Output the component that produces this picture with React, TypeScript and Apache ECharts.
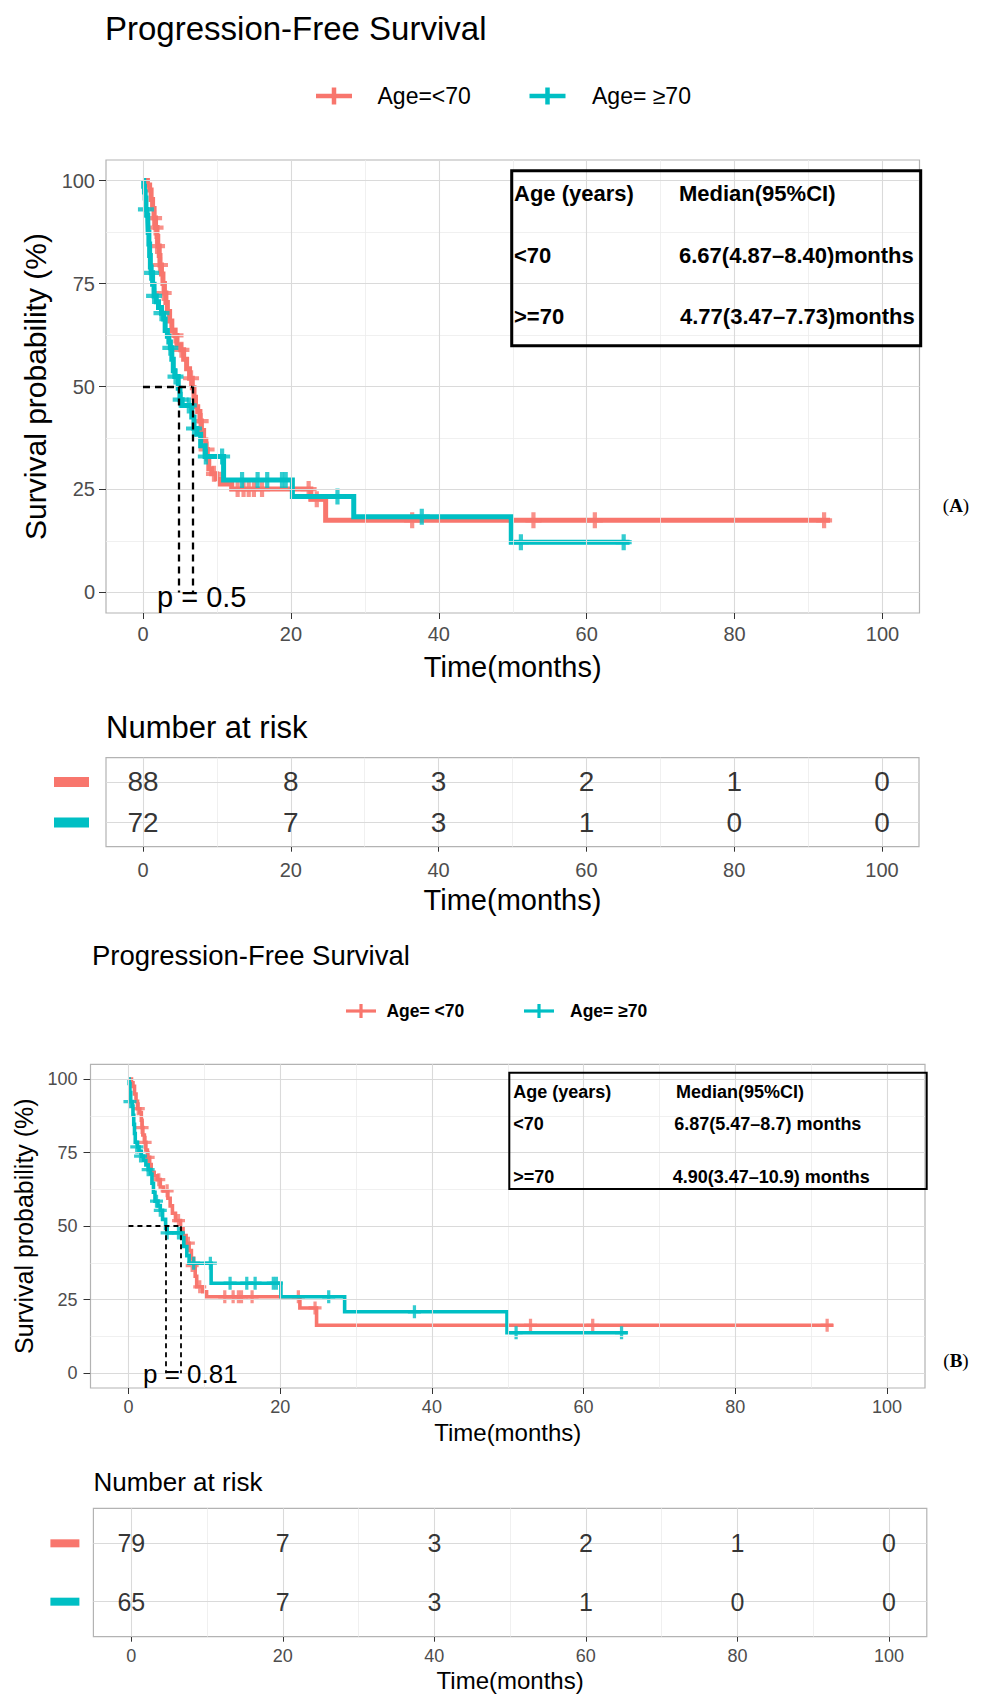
import React, { useEffect, useRef } from 'react';
import * as echarts from 'echarts';

const RED = '#F8766D';
const TEAL = '#00BFC4';
const FONT = '"Liberation Sans", Arial, Helvetica, sans-serif';
const SERIF = '"Liberation Serif", "Times New Roman", serif';

// axis breaks
const timeBreaks = [0, 20, 40, 60, 80, 100];
const timeMinor = [10, 30, 50, 70, 90];
const survBreaks = [0, 25, 50, 75, 100];
const survMinor = [12.5, 37.5, 62.5, 87.5];
const riskRows = [1, 2];

// ---------- Panel A ----------
const aLtSteps = [
  [0, 100], [0.6, 98.9], [0.9, 97.7], [1.1, 95.4], [1.3, 93.2], [1.5, 90.9], [1.7, 88.6], [1.9, 86.4],
  [2.0, 84.1], [2.2, 81.8], [2.3, 79.5], [2.5, 77.3], [2.7, 75.0], [2.9, 72.7], [3.1, 70.4], [3.3, 68.2],
  [3.6, 65.9], [3.9, 63.6], [4.3, 62.4], [4.6, 60.1], [5.1, 58.9], [5.5, 56.6], [5.9, 54.3], [6.3, 52.0],
  [6.67, 49.7], [6.9, 47.4], [7.1, 45.1], [7.4, 43.9], [7.7, 41.6], [7.9, 39.3], [8.2, 37.0], [8.5, 34.7],
  [8.7, 32.4], [8.9, 30.0], [9.3, 28.8], [9.9, 27.6], [10.4, 26.3], [12.0, 25.1], [22.7, 22.6], [24.7, 17.5],
];
const aLtEnd = 92.9;
const aLtCensor = [
  [1.5, 90.9], [1.7, 88.6], [1.9, 84.1], [2.3, 79.5], [2.8, 72.7], [4.4, 62.4], [5.2, 58.9], [6.5, 52.0],
  [7.8, 41.6], [8.6, 34.7], [9.6, 28.8], [12.8, 25.1], [13.6, 25.1], [14.3, 25.1], [15.0, 25.1], [16.1, 25.1],
  [22.4, 25.1], [23.5, 22.6], [36.4, 17.5], [52.8, 17.5], [61.1, 17.5], [92.1, 17.5],
];
const aGeSteps = [
  [0, 100], [0.1, 98.6], [0.2, 97.2], [0.3, 95.8], [0.4, 93.0], [0.55, 91.6], [0.65, 90.2], [0.7, 87.4],
  [0.8, 84.6], [0.9, 81.8], [1.0, 79.0], [1.1, 77.6], [1.3, 74.8], [1.5, 72.0], [1.8, 70.6], [2.1, 69.2],
  [2.5, 67.8], [2.8, 66.4], [3.0, 63.6], [3.3, 62.2], [3.5, 60.8], [3.7, 59.4], [3.9, 56.6], [4.1, 53.8],
  [4.3, 52.4], [4.77, 49.6], [5.0, 46.8], [5.3, 45.4], [6.6, 42.6], [6.9, 39.8], [7.3, 38.4], [7.8, 35.6],
  [8.4, 33.0], [10.9, 27.3], [20.2, 23.3], [28.5, 18.4], [49.8, 12.2],
];
const aGeEnd = 65.8;
const aGeCensor = [
  [0.4, 93.0], [1.1, 77.6], [1.5, 72.0], [2.5, 67.8], [3.7, 59.4], [4.4, 52.4], [5.1, 46.8], [6.2, 45.4],
  [6.9, 39.8], [8.5, 33.0], [10.7, 33.0], [13.4, 27.3], [15.5, 27.3], [16.8, 27.3], [18.8, 27.3], [19.3, 27.3],
  [26.3, 23.3], [37.7, 18.4], [51.1, 12.2], [65.0, 12.2],
];
const aMedianLt = 6.67;
const aMedianGe = 4.77;
const aRiskLt = [88, 8, 3, 2, 1, 0];
const aRiskGe = [72, 7, 3, 1, 0, 0];

// ---------- Panel B ----------
const bLtSteps = [
  [0, 100], [0.4, 98.7], [0.6, 97.5], [0.8, 94.9], [1.0, 92.4], [1.2, 89.9], [1.5, 88.6], [1.7, 86.0],
  [1.8, 83.5], [1.9, 81.0], [2.1, 78.5], [2.3, 75.9], [2.5, 73.4], [2.8, 70.9], [3.0, 68.3], [3.4, 67.1],
  [3.8, 65.8], [4.2, 63.3], [4.6, 62.0], [5.2, 59.5], [5.5, 56.9], [5.8, 54.4], [6.2, 51.9], [6.87, 49.3],
  [7.2, 46.8], [7.6, 44.2], [8.0, 41.7], [8.3, 39.1], [8.6, 36.6], [8.8, 33.0], [9.0, 29.4], [9.8, 27.7],
  [10.3, 26.0], [22.6, 22.2], [24.8, 16.3],
];
const bLtEnd = 92.9;
const bLtCensor = [
  [1.3, 89.9], [1.8, 83.5], [2.2, 78.5], [2.6, 73.4], [4.0, 65.8], [5.1, 62.0], [6.6, 51.9], [7.9, 44.2],
  [8.4, 36.6], [9.4, 29.4], [12.7, 26.0], [13.8, 26.0], [14.5, 26.0], [14.9, 26.0], [16.3, 26.0], [22.4, 26.0],
  [24.6, 22.2], [53.0, 16.3], [61.2, 16.3], [92.1, 16.3],
];
const bGeSteps = [
  [0, 100], [0.1, 98.5], [0.2, 95.4], [0.3, 92.3], [0.5, 90.8], [0.6, 87.7], [0.7, 84.6], [0.8, 81.5],
  [0.9, 78.5], [1.2, 76.9], [1.4, 75.4], [1.7, 73.8], [2.0, 72.3], [2.3, 70.8], [2.6, 69.2], [2.9, 67.7],
  [3.1, 64.6], [3.3, 61.5], [3.5, 58.5], [3.9, 56.9], [4.2, 55.4], [4.5, 52.3], [4.9, 49.2], [5.1, 47.7],
  [7.0, 46.1], [7.3, 43.1], [7.7, 40.0], [8.0, 37.4], [10.9, 30.6], [20.1, 26.0], [28.5, 20.9], [49.9, 13.8],
];
const bGeEnd = 65.8;
const bGeCensor = [
  [0.2, 92.3], [1.1, 76.9], [1.6, 73.8], [2.6, 69.2], [3.7, 58.5], [4.2, 55.4], [5.1, 47.7], [6.6, 47.7],
  [8.6, 37.4], [10.8, 37.4], [13.4, 30.6], [15.6, 30.6], [16.7, 30.6], [19.1, 30.6], [19.5, 30.6], [26.4, 26.0],
  [37.7, 20.9], [51.1, 13.8], [65.0, 13.8],
];
const bMedianLt = 6.87;
const bMedianGe = 4.9;
const bRiskLt = [79, 7, 3, 2, 1, 0];
const bRiskGe = [65, 7, 3, 1, 0, 0];

const PLUS_A = 'path://M-8,-2.1H-2.1V-8H2.1V-2.1H8V2.1H2.1V8H-2.1V2.1H-8Z';
const PLUS_B = 'path://M-6,-1.5H-1.5V-6H1.5V-1.5H6V1.5H1.5V6H-1.5V1.5H-6Z';

function stepLine(steps: number[][], end: number) {
  const last = steps[steps.length - 1];
  return [...steps, [end, last[1]]];
}

function gridLineSeries(xi: number, yi: number, vMajor: number[], vMinor: number[], hMajor: number[], hMinor: number[]) {
  const minor = { color: '#ECECEC', width: 0.8, type: 'solid' };
  const major = { color: '#DADADA', width: 1.1, type: 'solid' };
  return {
    type: 'line', xAxisIndex: xi, yAxisIndex: yi, data: [], silent: true, z: 1,
    markLine: {
      silent: true, symbol: ['none', 'none'], label: { show: false }, animation: false,
      emphasis: { disabled: true },
      data: [
        ...vMinor.map((v) => ({ xAxis: v, lineStyle: minor })),
        ...hMinor.map((v) => ({ yAxis: v, lineStyle: minor })),
        ...vMajor.map((v) => ({ xAxis: v, lineStyle: major })),
        ...hMajor.map((v) => ({ yAxis: v, lineStyle: major })),
      ],
    },
  };
}

function medianSeries(xi: number, yi: number, mLt: number, mGe: number, width: number, dash: number[]) {
  const hi = Math.max(mLt, mGe);
  return {
    type: 'line', xAxisIndex: xi, yAxisIndex: yi, data: [], silent: true, z: 6,
    markLine: {
      silent: true, symbol: ['none', 'none'], label: { show: false }, animation: false,
      emphasis: { disabled: true },
      lineStyle: { color: '#000', width, type: dash },
      data: [
        [{ coord: [0, 50] }, { coord: [hi, 50] }],
        [{ coord: [mGe, 50] }, { coord: [mGe, 0] }],
        [{ coord: [mLt, 50] }, { coord: [mLt, 0] }],
      ],
    },
  };
}

function curve(xi: number, yi: number, name: string, steps: number[][], end: number, color: string, width: number, z: number) {
  return {
    type: 'line', name, xAxisIndex: xi, yAxisIndex: yi, step: 'end', data: stepLine(steps, end),
    showSymbol: false, symbol: 'none', clip: false, silent: true, z,
    lineStyle: { color, width, join: 'miter' }, itemStyle: { color },
  };
}

function censor(xi: number, yi: number, data: number[][], color: string, symbol: string, size: number, z: number) {
  return {
    type: 'scatter', xAxisIndex: xi, yAxisIndex: yi, data, symbol, symbolSize: [size, size],
    itemStyle: { color }, silent: true, z, clip: false,
  };
}

function riskSeries(xi: number, yi: number, row: number, values: number[], fontSize: number) {
  return {
    type: 'scatter', xAxisIndex: xi, yAxisIndex: yi, symbolSize: 1, silent: true, z: 5,
    itemStyle: { color: 'rgba(0,0,0,0)' },
    data: timeBreaks.map((t, i) => [t, row, values[i]]),
    label: {
      show: true, position: 'inside', formatter: (p: any) => String(p.value[2]),
      fontSize, color: '#000', fontFamily: FONT,
    },
  };
}

function timeAxis(gridIndex: number, labelSize: number, margin: number, nameSize: number, nameGap: number, tickLen: number) {
  return {
    gridIndex, type: 'value', min: -5, max: 105,
    axisLine: { show: false, onZero: false },
    axisTick: { show: true, customValues: timeBreaks, length: tickLen, lineStyle: { color: '#333333', width: 1 } },
    axisLabel: { customValues: timeBreaks, fontSize: labelSize, color: '#4D4D4D', fontFamily: FONT, margin },
    splitLine: { show: false }, minorSplitLine: { show: false },
    name: 'Time(months)', nameLocation: 'middle', nameGap,
    nameTextStyle: { fontSize: nameSize, color: '#000', fontFamily: FONT },
  };
}

function survAxis(gridIndex: number, labelSize: number, margin: number, nameSize: number, nameGap: number, tickLen: number) {
  return {
    gridIndex, type: 'value', min: -5, max: 105,
    axisLine: { show: false, onZero: false },
    axisTick: { show: true, customValues: survBreaks, length: tickLen, lineStyle: { color: '#333333', width: 1 } },
    axisLabel: { customValues: survBreaks, fontSize: labelSize, color: '#4D4D4D', fontFamily: FONT, margin },
    splitLine: { show: false }, minorSplitLine: { show: false },
    name: 'Survival probability (%)', nameLocation: 'middle', nameGap,
    nameTextStyle: { fontSize: nameSize, color: '#000', fontFamily: FONT },
  };
}

function riskAxis(gridIndex: number, w: number, h: number, margin: number) {
  return {
    gridIndex, type: 'value', min: 0.4, max: 2.6,
    axisLine: { show: false, onZero: false }, axisTick: { show: false },
    splitLine: { show: false },
    axisLabel: {
      customValues: riskRows, margin,
      formatter: (v: number) => (v === 2 ? '{r| }' : '{t| }'),
      rich: {
        r: { width: w, height: h, backgroundColor: RED },
        t: { width: w, height: h, backgroundColor: TEAL },
      },
    },
  };
}

function txt(text: string, x: number, y: number, size: number, opts: any = {}) {
  const align = opts.align || 'left';
  return {
    type: 'text', x, y, z: 100,
    style: {
      text, fontSize: size, fontFamily: opts.family || FONT, fontWeight: opts.weight || 'normal',
      fill: opts.fill || '#000', align, textAlign: align, verticalAlign: 'middle', textVerticalAlign: 'middle',
      rich: opts.rich,
    },
  };
}

function legendMark(cx: number, cy: number, halfW: number, halfH: number, color: string, lw: number) {
  return [
    { type: 'line', z: 100, shape: { x1: cx - halfW, y1: cy, x2: cx + halfW, y2: cy }, style: { stroke: color, lineWidth: lw } },
    { type: 'line', z: 100, shape: { x1: cx, y1: cy - halfH, x2: cx, y2: cy + halfH }, style: { stroke: color, lineWidth: lw } },
  ];
}

const gridStyle = { show: true, borderColor: '#B3B3B3', borderWidth: 1.2, backgroundColor: '#FFFFFF', containLabel: false };

function buildOption() {
  const grids = [
    { ...gridStyle, left: 106, top: 160, width: 813.5, height: 453 },
    { ...gridStyle, left: 106, top: 757.7, width: 813, height: 89 },
    { ...gridStyle, left: 90.5, top: 1064.3, width: 834.5, height: 323.7 },
    { ...gridStyle, left: 93.4, top: 1508.3, width: 833.4, height: 128.4 },
  ];
  const xAxis = [
    timeAxis(0, 20, 11, 29, 39, 6),
    timeAxis(1, 20, 13, 29, 39, 5),
    timeAxis(2, 18, 10, 24, 32, 6),
    timeAxis(3, 18, 10, 24, 32, 5),
  ];
  const yAxis = [
    survAxis(0, 20, 11, 30, 55, 7),
    riskAxis(1, 35, 10, 17),
    survAxis(2, 18, 13, 25, 44, 7),
    riskAxis(3, 29, 8, 14),
  ];
  const series = [
    gridLineSeries(0, 0, timeBreaks, timeMinor, survBreaks, survMinor),
    curve(0, 0, 'Age=<70', aLtSteps, aLtEnd, RED, 5, 3),
    censor(0, 0, aLtCensor, RED, PLUS_A, 16, 3),
    curve(0, 0, 'Age= ≥70', aGeSteps, aGeEnd, TEAL, 5, 4),
    censor(0, 0, aGeCensor, TEAL, PLUS_A, 16, 4),
    medianSeries(0, 0, aMedianLt, aMedianGe, 2.3, [7, 5]),

    gridLineSeries(1, 1, timeBreaks, timeMinor, riskRows, []),
    riskSeries(1, 1, 2, aRiskLt, 28),
    riskSeries(1, 1, 1, aRiskGe, 28),

    gridLineSeries(2, 2, timeBreaks, timeMinor, survBreaks, survMinor),
    curve(2, 2, 'Age= <70', bLtSteps, bLtEnd, RED, 3.6, 3),
    censor(2, 2, bLtCensor, RED, PLUS_B, 13, 3),
    curve(2, 2, 'Age= ≥70 ', bGeSteps, bGeEnd, TEAL, 3.6, 4),
    censor(2, 2, bGeCensor, TEAL, PLUS_B, 13, 4),
    medianSeries(2, 2, bMedianLt, bMedianGe, 1.8, [5, 4]),

    gridLineSeries(3, 3, timeBreaks, timeMinor, riskRows, []),
    riskSeries(3, 3, 2, bRiskLt, 25),
    riskSeries(3, 3, 1, bRiskGe, 25),
  ];

  const panelLabelRich = { n: { fontWeight: 'normal', fontSize: 19, fontFamily: SERIF }, b: { fontWeight: 'bold', fontSize: 19, fontFamily: SERIF } };

  const graphic = [
    // Panel A
    txt('Progression-Free Survival', 105, 28, 33),
    ...legendMark(334, 96, 18, 8.5, RED, 4.5),
    txt('Age=<70', 377.5, 96, 23),
    ...legendMark(547.5, 96, 18, 8.5, TEAL, 4.5),
    txt('Age= ≥70', 592, 96, 23),
    { type: 'rect', z: 100, shape: { x: 511.7, y: 170.7, width: 409, height: 175 }, style: { fill: 'transparent', stroke: '#000', lineWidth: 3 } },
    txt('Age (years)', 514, 193, 22, { weight: 'bold' }),
    txt('Median(95%CI)', 679, 193, 22, { weight: 'bold' }),
    txt('<70', 514, 255, 22, { weight: 'bold' }),
    txt('6.67(4.87–8.40)months', 679, 255, 22, { weight: 'bold' }),
    txt('>=70', 514, 316, 22, { weight: 'bold' }),
    txt('4.77(3.47–7.73)months', 680, 316, 22, { weight: 'bold' }),
    txt('p = 0.5', 157, 597, 29),
    txt('{n|(}{b|A}{n|)}', 956, 505, 19, { align: 'center', family: SERIF, rich: panelLabelRich }),
    txt('Number at risk', 106, 727, 31),

    // Panel B
    txt('Progression-Free Survival', 92, 955, 27.5),
    ...legendMark(361, 1011, 15, 7, RED, 3.2),
    txt('Age= <70', 386.4, 1011, 17.5, { weight: 'bold' }),
    ...legendMark(539, 1011, 15, 7, TEAL, 3.2),
    txt('Age= ≥70', 570, 1011, 17.5, { weight: 'bold' }),
    { type: 'rect', z: 100, shape: { x: 509.3, y: 1072.7, width: 417.4, height: 116.3 }, style: { fill: 'transparent', stroke: '#000', lineWidth: 2 } },
    txt('Age (years)', 513.3, 1091.7, 18, { weight: 'bold' }),
    txt('Median(95%CI)', 676, 1091.7, 18, { weight: 'bold' }),
    txt('<70', 513.3, 1124.3, 18, { weight: 'bold' }),
    txt('6.87(5.47–8.7) months', 674.3, 1124.3, 18, { weight: 'bold' }),
    txt('>=70', 513.3, 1176.7, 18, { weight: 'bold' }),
    txt('4.90(3.47–10.9) months', 672.7, 1176.7, 18, { weight: 'bold' }),
    txt('p = 0.81', 143, 1374, 26),
    txt('{n|(}{b|B}{n|)}', 956, 1360, 19, { align: 'center', family: SERIF, rich: panelLabelRich }),
    txt('Number at risk', 93.4, 1481.7, 26),
  ];

  return {
    animation: false,
    backgroundColor: '#FFFFFF',
    textStyle: { fontFamily: FONT },
    grid: grids,
    xAxis,
    yAxis,
    series,
    graphic,
  };
}

export default function App() {
  const ref = useRef<HTMLDivElement>(null);
  useEffect(() => {
    if (!ref.current) return;
    const chart = echarts.init(ref.current, null, { renderer: 'svg' });
    chart.setOption(buildOption() as any);
    return () => chart.dispose();
  }, []);
  return (
    <div
      ref={ref}
      style={{ position: 'absolute', left: 0, top: 0, width: 990, height: 1695, background: '#FFFFFF' }}
    />
  );
}
